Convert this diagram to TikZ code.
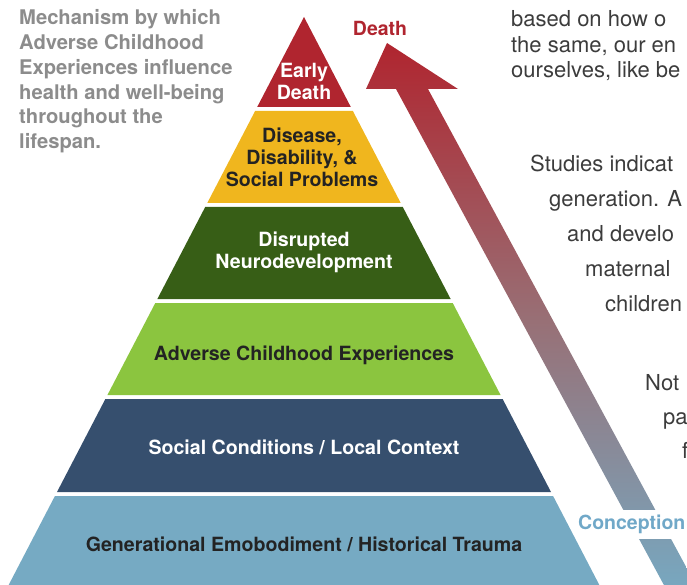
\documentclass[tikz,border=0pt]{standalone}
\usepackage{fontspec}
\setmainfont{TeX Gyre Heros}

\definecolor{deathred}{RGB}{176,37,47}
\definecolor{diseaseyellow}{RGB}{240,182,30}
\definecolor{neurogreen}{RGB}{55,94,22}
\definecolor{acegreen}{RGB}{139,197,63}
\definecolor{socialnavy}{RGB}{54,79,110}
\definecolor{traumablue}{RGB}{118,170,195}
\definecolor{captiongray}{RGB}{140,140,140}
\definecolor{bodygray}{RGB}{60,60,60}
\definecolor{labeldark}{RGB}{35,35,35}
\definecolor{arrowmid}{RGB}{152,112,118}
\definecolor{conceptblue}{RGB}{112,168,200}

\tikzset{
  layer/.style={font=\fontsize{19.6}{22}\selectfont\bfseries, align=center, inner sep=0pt},
  endlabel/.style={font=\fontsize{19.5}{24}\selectfont\bfseries},
  bodyline/.style={font=\fontsize{22}{26}\selectfont, text=bodygray, anchor=base west, inner sep=0pt},
}

\begin{document}
\begin{tikzpicture}[x=1pt,y=-1pt]
   \useasboundingbox (0,0) rectangle (687,585);
   % pyramid, one trapezoid per level
   \foreach \t/\b/\c in {17/107/deathred, 111/203/diseaseyellow, 207/299/neurogreen,
                          303/395/acegreen, 399/492/socialnavy, 496/592/traumablue}
      \fill[\c] ({304-0.52*(\t-17)},\t) -- ({304+0.52*(\t-17)},\t)
             -- ({304+0.52*(\b-17)},\b) -- ({304-0.52*(\b-17)},\b) -- cycle;
   % life course arrow
   \shade[top color=deathred, bottom color=traumablue, middle color=arrowmid]
      (387,43) -- (458,89) -- (428,89) -- (704,600) -- (672,600)
      -- (396,89) -- (366,89) -- cycle;
   \node[layer, text=white] (early) at (304,81) {Early\\Death};
   \node[layer, text=labeldark] (disease) at (302,157) {Disease,\\Disability, \&\\Social Problems};
   \node[layer, text=white] (neuro) at (304,252.5) {Disrupted\\Neurodevelopment};
   \node[layer, text=labeldark] (ace) at (304,355) {Adverse Childhood Experiences};
   \node[layer, text=white] (social) at (304,447) {Social Conditions / Local Context};
   \node[layer, text=labeldark] (trauma) at (304,544) {Generational Emobodiment / Historical Trauma};
   \node[endlabel, text=deathred] (death) at (380,28) {Death};
   \node[endlabel, text=conceptblue, fill=white, anchor=west, inner xsep=1pt,
         minimum height=29pt] (conception) at (577,524) {Conception};
   \node[font=\fontsize{20.2}{24.8}\selectfont\bfseries, text=captiongray, align=left,
         anchor=north west, inner sep=0pt] (caption) at (19,9.5)
         {Mechanism by which\\Adverse Childhood\\Experiences influence\\health and well-being\\throughout the\\lifespan.};
   % text running beside the arrow
   \foreach \x/\y/\s [count=\i] in {511/27/{based on how o}, 511/53/{the same, our en},
         511/78/{ourselves, like be}, 530/172/{Studies indicat}, 549/207/{generation. A},
         567/241/{and develo}, 585/276/{maternal}, 605/311/{children},
         645/390/{Not}, 663/424/{pa}, 682/458/{f}}
      \node[bodyline] (body\i) at (\x,\y) {\s};
\end{tikzpicture}
\end{document}
